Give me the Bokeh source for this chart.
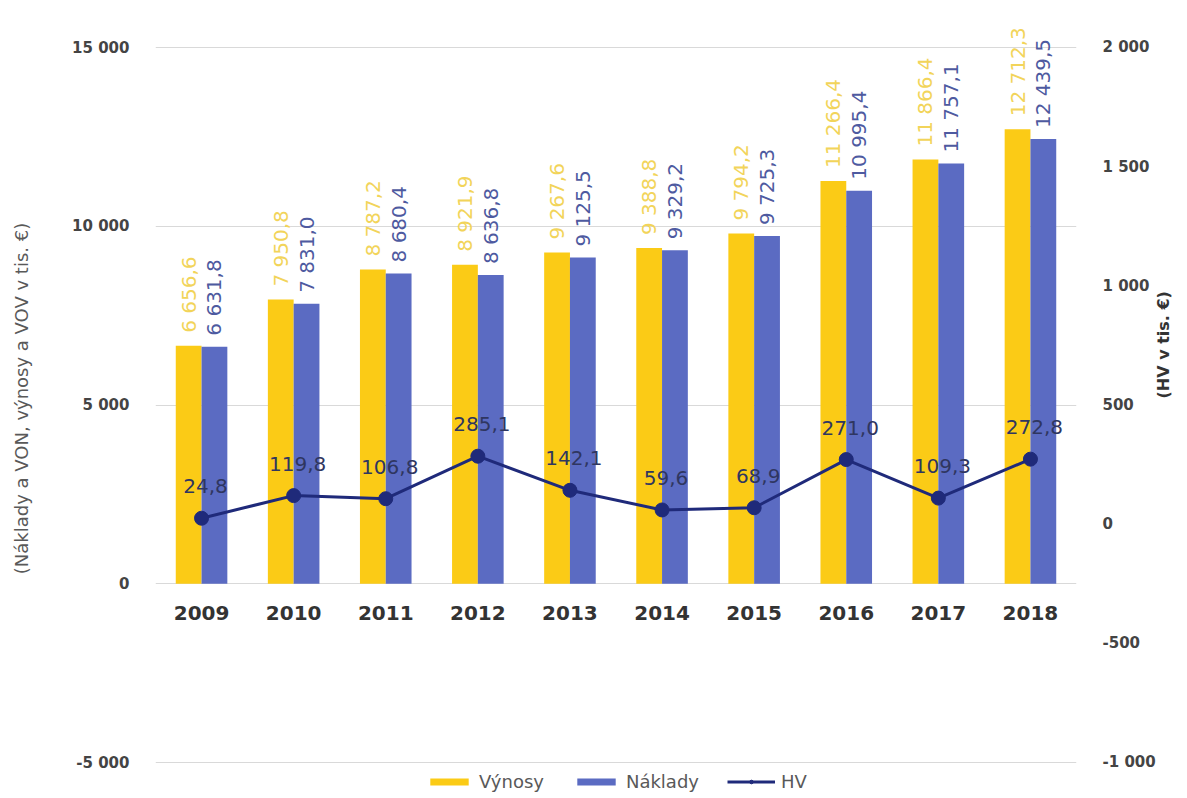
import math
from bokeh.plotting import figure
from bokeh.models import (Range1d, LinearAxis, FixedTicker, ColumnDataSource,
                          Legend, LegendItem, FactorRange)
from bokeh.transform import dodge
from bokeh.core.properties import value
from bokeh.embed import file_html
from bokeh.resources import INLINE

years = ["2009", "2010", "2011", "2012", "2013", "2014", "2015", "2016", "2017", "2018"]
vynosy = [6656.6, 7950.8, 8787.2, 8921.9, 9267.6, 9388.8, 9794.2, 11266.4, 11866.4, 12712.3]
naklady = [6631.8, 7831.0, 8680.4, 8636.8, 9125.5, 9329.2, 9725.3, 10995.4, 11757.1, 12439.5]
hv = [24.8, 119.8, 106.8, 285.1, 142.1, 59.6, 68.9, 271.0, 109.3, 272.8]

left_ticks = [-5000, 0, 5000, 10000, 15000]
left_tick_labels = ["-5 000", "0", "5 000", "10 000", "15 000"]
right_ticks = [-1000, -500, 0, 500, 1000, 1500, 2000]
right_tick_labels = ["-1 000", "-500", "0", "500", "1 000", "1 500", "2 000"]


def fmt(v):
    return f"{v:,.1f}".replace(",", " ").replace(".", ",")


FONT = "DejaVu Sans"
YELLOW = "#FBCB16"
BLUE = "#5B6BC2"
NAVY = "#1F2A7A"

src = ColumnDataSource(dict(
    year=years, vyn=vynosy, nak=naklady, hv=hv,
    vyn_lbl=[fmt(v) for v in vynosy],
    nak_lbl=[fmt(v) for v in naklady],
    hv_lbl=[fmt(v) for v in hv],
    zero=[0] * len(years),
))

p = figure(x_range=FactorRange(factors=years), y_range=Range1d(-5951, 16315),
           width=1185, height=796, output_backend="svg", toolbar_location=None,
           x_axis_location=None, min_border_left=155, min_border_right=103,
           min_border_top=0, min_border_bottom=0, background_fill_color="white",
           border_fill_color="white")
p.outline_line_color = None
p.title.visible = False
p.extra_y_ranges = {"hv": Range1d(-1142.7, 2197.2)}

# left axis
ya = p.yaxis[0]
ya.ticker = FixedTicker(ticks=left_ticks)
ya.major_label_overrides = {t: l for t, l in zip(left_ticks, left_tick_labels)}
ya.axis_line_color = None
ya.major_tick_line_color = None
ya.minor_tick_line_color = None
ya.major_label_standoff = 20
ya.major_label_text_font = FONT
ya.major_label_text_font_size = "15px"
ya.major_label_text_font_style = "bold"
ya.major_label_text_color = "#444444"
ya.axis_label = "(Náklady a VON, výnosy a VOV v tis. €)"
ya.axis_label_text_font = FONT
ya.axis_label_text_font_size = "18px"
ya.axis_label_text_font_style = "normal"
ya.axis_label_text_color = "#595959"
ya.axis_label_standoff = 37

ra = LinearAxis(y_range_name="hv", ticker=FixedTicker(ticks=right_ticks))
ra.major_label_overrides = {t: l for t, l in zip(right_ticks, right_tick_labels)}
ra.axis_line_color = None
ra.major_tick_line_color = None
ra.minor_tick_line_color = None
ra.major_label_standoff = 20
ra.major_label_text_font = FONT
ra.major_label_text_font_size = "15px"
ra.major_label_text_font_style = "bold"
ra.major_label_text_color = "#444444"
ra.axis_label = "(HV v tis. €)"
ra.axis_label_orientation = math.pi / 2
ra.axis_label_text_font = FONT
ra.axis_label_text_font_size = "16px"
ra.axis_label_text_font_style = "bold"
ra.axis_label_text_color = "#333333"
ra.axis_label_standoff = 5
p.add_layout(ra, "right")

p.xgrid.visible = False
p.ygrid.ticker = FixedTicker(ticks=left_ticks)
p.ygrid.grid_line_color = "#D9D9D9"
p.ygrid.grid_line_width = 1

r_v = p.vbar(x=dodge("year", -0.14, range=p.x_range), top="vyn", bottom=0, width=0.28,
             source=src, fill_color=YELLOW, line_color=None)
r_n = p.vbar(x=dodge("year", 0.14, range=p.x_range), top="nak", bottom=0, width=0.28,
             source=src, fill_color=BLUE, line_color=None)

r_l = p.line(x="year", y="hv", y_range_name="hv", source=src, line_color=NAVY, line_width=3)
r_s = p.scatter(x="year", y="hv", y_range_name="hv", source=src, size=14,
                fill_color=NAVY, line_color=NAVY)

# value labels
p.text(x=dodge("year", -0.14, range=p.x_range), y="vyn", text="vyn_lbl", source=src,
       angle=math.pi / 2, text_align="left", text_baseline="middle", y_offset=-13,
       text_font=value(FONT), text_font_size="20px", text_color="#F2D45A")
p.text(x=dodge("year", 0.14, range=p.x_range), y="nak", text="nak_lbl", source=src,
       angle=math.pi / 2, text_align="left", text_baseline="middle", y_offset=-11,
       text_font=value(FONT), text_font_size="20px", text_color="#4E5AA0")
p.text(x="year", y="hv", y_range_name="hv", text="hv_lbl", source=src,
       text_align="center", text_baseline="middle", y_offset=-32, x_offset=4,
       text_font=value(FONT), text_font_size="20px", text_color="#2F3660")

# category labels
p.text(x="year", y="zero", text="year", source=src, text_align="center",
       text_baseline="middle", y_offset=29, text_font=value(FONT),
       text_font_size="20px", text_font_style="bold", text_color="#333333")

legend = Legend(items=[LegendItem(label="Výnosy", renderers=[r_v]),
                       LegendItem(label="Náklady", renderers=[r_n]),
                       LegendItem(label="HV", renderers=[r_l, r_s])],
                orientation="horizontal", location=(270, 4))
legend.margin = 0
legend.padding = 0
legend.spacing = 28
legend.label_standoff = 6
legend.glyph_width = 48
legend.glyph_height = 9
legend.label_height = 18
legend.label_text_font = FONT
legend.label_text_font_size = "18px"
legend.label_text_color = "#595959"
legend.background_fill_color = "white"
legend.background_fill_alpha = 1
legend.border_line_color = None
p.add_layout(legend)

open("out.html", "w").write(file_html(p, INLINE))
